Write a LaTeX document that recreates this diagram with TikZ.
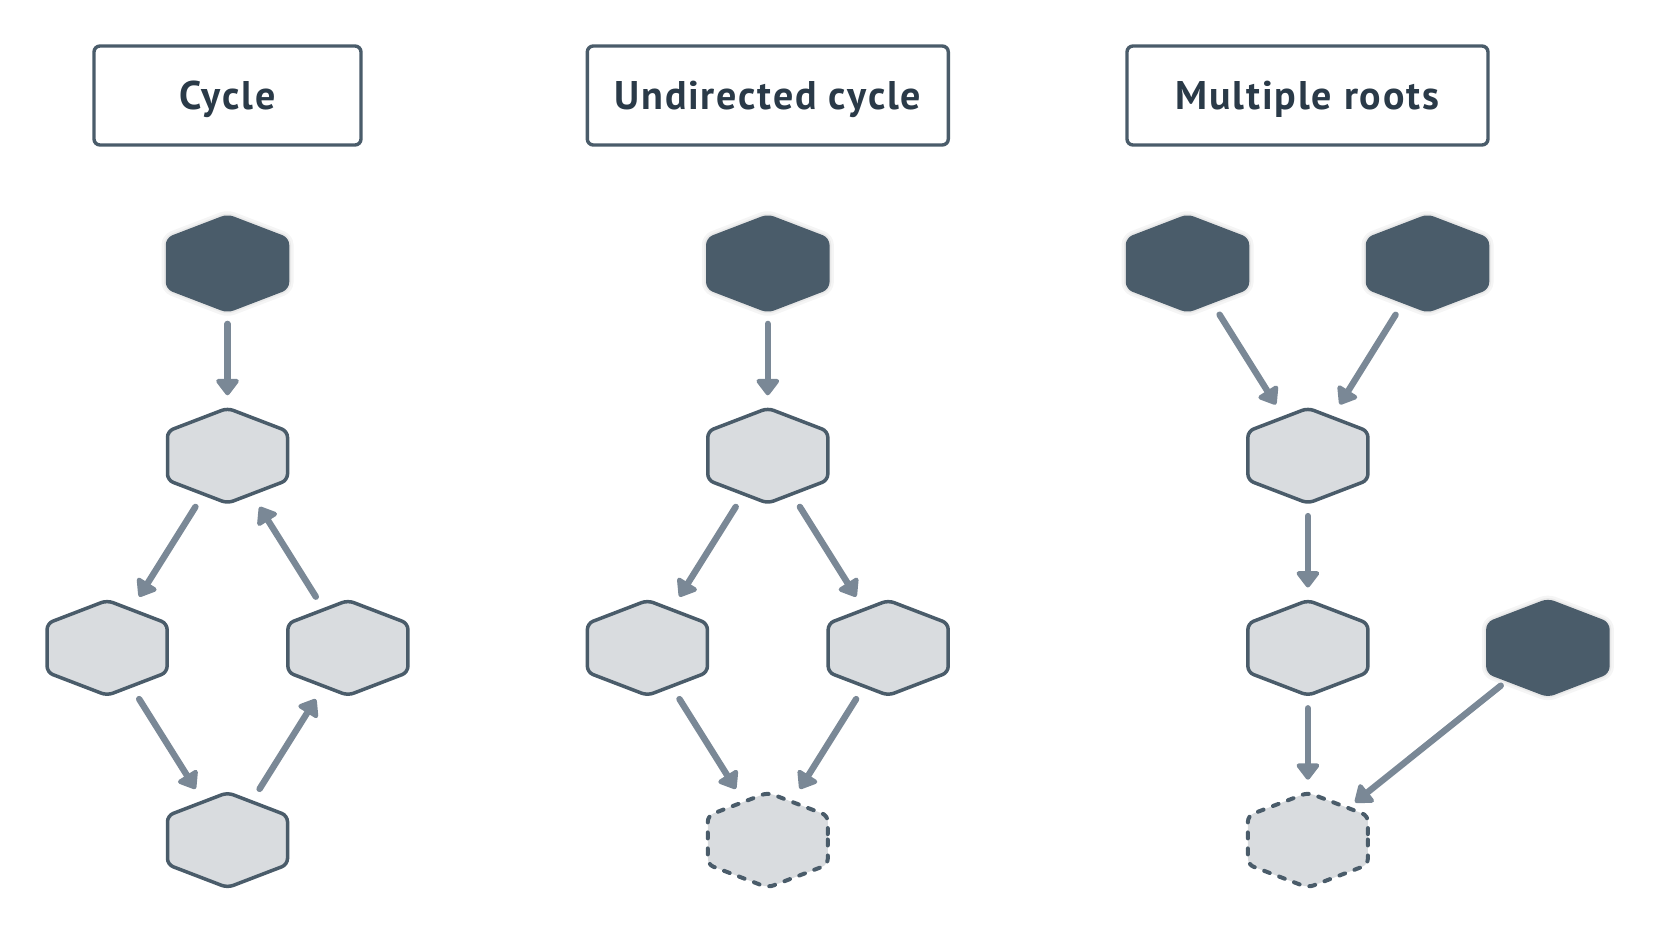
\documentclass[tikz,border=0pt]{standalone}
\usepackage{fontspec}
\setmainfont{PT Sans}
\newfontfamily\titlefont{PT Sans}[LetterSpace=4.5]
\usetikzlibrary{positioning, arrows.meta, calc}

\definecolor{slate}{HTML}{4A5C6A}
\definecolor{mist}{HTML}{D9DCDF}
\definecolor{steel}{HTML}{7A8896}
\definecolor{ink}{HTML}{2A3A48}

\begin{document}
\begin{tikzpicture}[
        % work in pixels of the target, y pointing down
        x=0.5pt, y=-0.5pt,
        on grid, node distance=96.1pt and 60.2pt,
        % Define styles for the nodes
        title_box/.style={draw=slate, line width=1.7pt, rounded corners=3pt, fill=white,
            minimum height=49.5pt, text height=14pt, text depth=0pt, text=ink,
            font=\titlefont\bfseries\fontsize{20}{24}\selectfont},
        hex_base/.style={circle, minimum size=60pt, inner sep=0pt},
        hex/.style={hex_base, append after command={\pgfextra{
            \draw[line width=1.75pt, rounded corners=3pt, #1]
              ($(\tikzlastnode.center)+(60,0)$) -- ++(0,-24.5) -- ++(-60,-23) -- ++(-60,23)
              -- ++(0,49) -- ++(60,23) -- ++(60,-23) -- cycle;}}},
        soft_shadow/.style={preaction={draw=black, draw opacity=0.04, line width=6pt},
            preaction={draw=black, draw opacity=0.05, line width=3.5pt}},
        hex_dark/.style={hex={draw=slate, fill=slate, soft_shadow}},
        hex_light/.style={hex={draw=slate, fill=mist}},
        hex_ghost/.style={hex={draw=slate, fill=mist, line width=2pt, dash pattern=on 3pt off 5pt, line cap=round}},
        arrow/.style={-{Triangle[width=13pt, length=9pt, round]}, line width=3.2pt, draw=steel, fill=steel, line cap=round}
    ]
    \useasboundingbox (0,0) rectangle (1656,936);

    % Cycle
    \node (cycle_title) [title_box, minimum width=133.5pt] at (227.5,95.5) {Cycle};
    \node (c_top) [hex_dark, below=84pt of cycle_title] {};
    \node (c_mid) [hex_light, below=of c_top] {};
    \node (c_left) [hex_light, below left=of c_mid] {};
    \node (c_right) [hex_light, below right=of c_mid] {};
    \node (c_bot) [hex_light, below right=of c_left] {};
    \draw [arrow] (c_top) -- (c_mid);
    \draw [arrow] (c_mid) -- (c_left);
    \draw [arrow] (c_left) -- (c_bot);
    \draw [arrow] (c_bot) -- (c_right);
    \draw [arrow] (c_right) -- (c_mid);

    % Undirected cycle
    \node (undir_title) [title_box, minimum width=180.5pt] at (767.8,95.5) {Undirected cycle};
    \node (u_top) [hex_dark, below=84pt of undir_title] {};
    \node (u_mid) [hex_light, below=of u_top] {};
    \node (u_left) [hex_light, below left=of u_mid] {};
    \node (u_right) [hex_light, below right=of u_mid] {};
    \node (u_bot) [hex_ghost, below right=of u_left] {};
    \draw [arrow] (u_top) -- (u_mid);
    \draw [arrow] (u_mid) -- (u_left);
    \draw [arrow] (u_mid) -- (u_right);
    \draw [arrow] (u_left) -- (u_bot);
    \draw [arrow] (u_right) -- (u_bot);

    % Multiple roots
    \node (multi_title) [title_box, minimum width=180.5pt] at (1307.5,95.5) {Multiple roots};
    \node (m_root_a) [hex_dark, below left=84pt and 60pt of multi_title] {};
    \node (m_root_b) [hex_dark, below right=84pt and 60pt of multi_title] {};
    \node (m_mid) [hex_light, below right=of m_root_a] {};
    \node (m_low) [hex_light, below=of m_mid] {};
    \node (m_root_c) [hex_dark, right=120pt of m_low] {};
    \node (m_bot) [hex_ghost, below=of m_low] {};
    \draw [arrow] (m_root_a) -- (m_mid);
    \draw [arrow] (m_root_b) -- (m_mid);
    \draw [arrow] (m_mid) -- (m_low);
    \draw [arrow] (m_low) -- (m_bot);
    \draw [arrow] (m_root_c) -- (m_bot);

\end{tikzpicture}
\end{document}
